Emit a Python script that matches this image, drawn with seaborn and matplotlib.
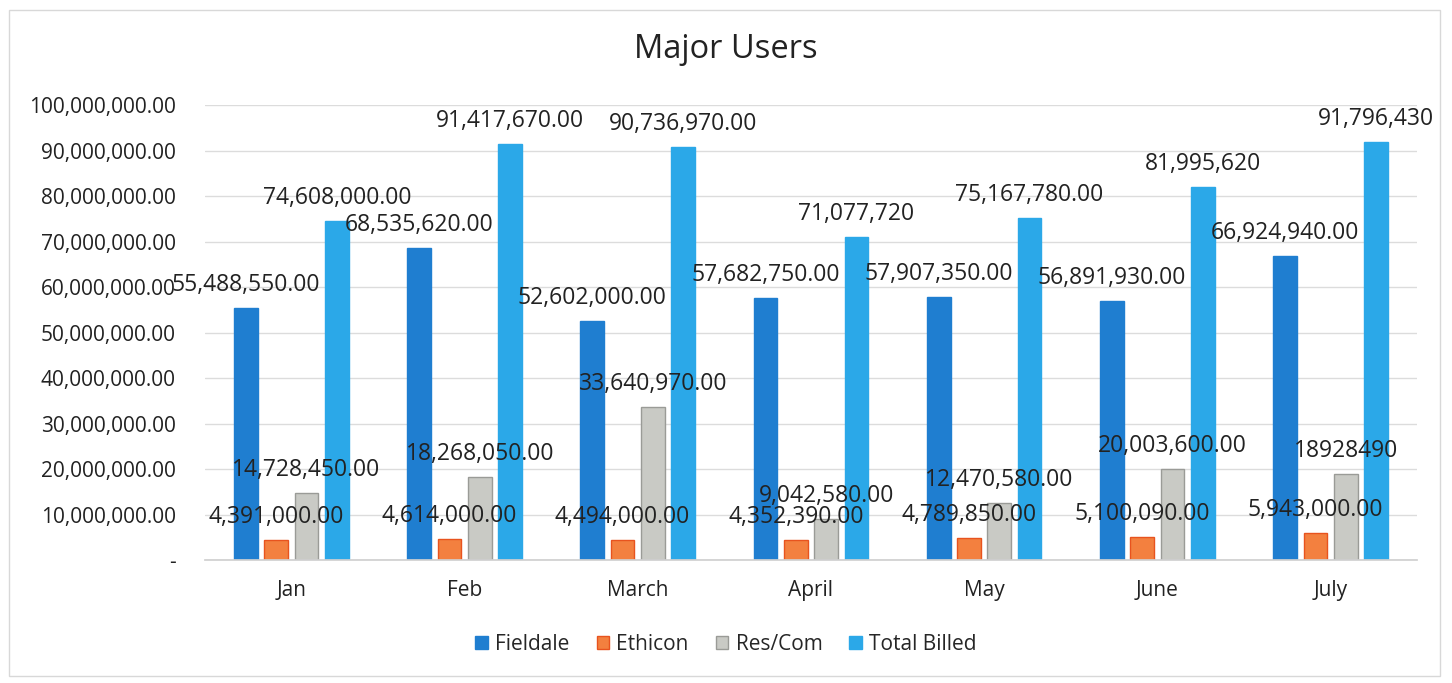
import matplotlib
matplotlib.use("Agg")
import matplotlib.pyplot as plt
import matplotlib.patches as mpatches
import seaborn as sns
import pandas as pd
from matplotlib.ticker import FuncFormatter, MultipleLocator

months = ["Jan", "Feb", "March", "April", "May", "June", "July"]
series = ["Fieldale", "Ethicon", "Res/Com", "Total Billed"]

fieldale = [55488550, 68535620, 52602000, 57682750, 57907350, 56891930, 66924940]
ethicon = [4391000, 4614000, 4494000, 4352390, 4789850, 5100090, 5943000]
res_com = [14728450, 18268050, 33640970, 9042580, 12470580, 20003600, 18928490]
total_billed = [74608000, 91417670, 90736970, 71077720, 75167780, 81995620, 91796430]

# how each value label is written: "dec" = 1,234.00, "int" = 1,234, "raw" = 1234
fieldale_fmt = ["dec"] * 7
ethicon_fmt = ["dec"] * 7
res_com_fmt = ["dec", "dec", "dec", "dec", "dec", "dec", "raw"]
total_fmt = ["dec", "dec", "dec", "int", "dec", "int", "int"]

values = {"Fieldale": fieldale, "Ethicon": ethicon,
          "Res/Com": res_com, "Total Billed": total_billed}
formats = {"Fieldale": fieldale_fmt, "Ethicon": ethicon_fmt,
           "Res/Com": res_com_fmt, "Total Billed": total_fmt}

colors = {"Fieldale": "#1f7ed0", "Ethicon": "#f3803f",
          "Res/Com": "#c9cac5", "Total Billed": "#2ba8e8"}
edges = {"Fieldale": "#1f7ed0", "Ethicon": "#e8531e",
         "Res/Com": "#9a9b97", "Total Billed": "#2ba8e8"}

rows = [(m, s, values[s][i]) for s in series for i, m in enumerate(months)]
df = pd.DataFrame(rows, columns=["Month", "Series", "Value"])


def fmt_label(v, kind):
    if kind == "dec":
        return f"{v:,.2f}"
    if kind == "int":
        return f"{v:,.0f}"
    return f"{v:d}"


sns.set_theme(style="white")
plt.rcParams["font.family"] = ["Open Sans", "DejaVu Sans"]

fig = plt.figure(figsize=(14.52, 6.83), dpi=100)
ax = fig.add_axes([0.141, 0.180, 0.835, 0.666])

sns.barplot(data=df, x="Month", y="Value", hue="Series", order=months,
            hue_order=series, palette=colors, saturation=1, width=0.7,
            gap=0.22, ax=ax, legend=False)

for cont, s in zip(ax.containers, series):
    for p in cont.patches:
        p.set_edgecolor(edges[s])
        p.set_linewidth(1.0)
    labels = [fmt_label(v, k) for v, k in zip(values[s], formats[s])]
    ax.bar_label(cont, labels=labels, padding=8, fontsize=16.5,
                 color="#222222")

ax.set_ylim(0, 100_000_000)
ax.yaxis.set_major_locator(MultipleLocator(10_000_000))
ax.yaxis.set_major_formatter(FuncFormatter(
    lambda v, _: "-" if v == 0 else f"{v:,.2f}"))
ax.grid(axis="y", color="#dcdcdc", linewidth=1)
ax.set_axisbelow(True)
for side in ["top", "right", "left"]:
    ax.spines[side].set_visible(False)
ax.spines["bottom"].set_color("#d0d0d0")
ax.tick_params(axis="y", labelsize=15, colors="#222222", pad=21, length=0)
ax.tick_params(axis="x", labelsize=15, colors="#222222", pad=14, length=0)
ax.set_xlabel("")
ax.set_ylabel("")

fig.text(0.5, 0.927, "Major Users", ha="center", va="center",
         fontsize=23.5, color="#222222")

handles = [mpatches.Patch(facecolor=colors[s], edgecolor=edges[s], label=s)
           for s in series]
fig.legend(handles=handles, loc="center", bbox_to_anchor=(0.5, 0.057),
           ncol=4, frameon=False, fontsize=15, handlelength=0.6,
           handleheight=0.6, handletextpad=0.35, columnspacing=1.3)

fig.patches.append(mpatches.Rectangle((0.006, 0.01), 0.986, 0.975,
                                      transform=fig.transFigure, fill=False,
                                      edgecolor="#d8d8d8", linewidth=1))

fig.savefig("out.png", dpi=100, facecolor="white")
